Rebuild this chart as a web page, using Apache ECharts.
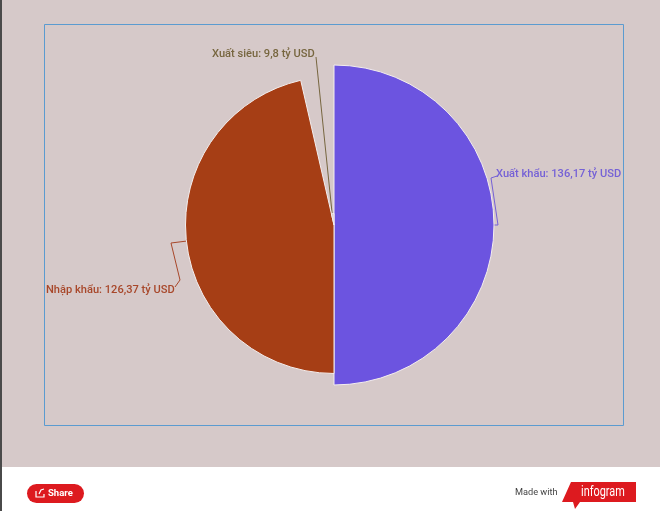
<!DOCTYPE html>
<html><head><meta charset="utf-8">
<style>html,body{margin:0;padding:0;background:#fff}#c{width:660px;height:511px}</style>
<script src="https://cdn.jsdelivr.net/npm/echarts@6/dist/echarts.min.js"></script>
</head><body><div id="c"></div>
<script>
const categories = ['Xuất khẩu', 'Nhập khẩu', 'Xuất siêu'];
const values = [136.17, 126.37, 9.8];
const valueLabels = ['136,17', '126,37', '9,8'];
const unit = 'tỷ USD';
const sliceColors = ['#6c54e0', '#a63e15', '#d6c9c9'];
const labelColors = ['#7561d6', '#a8472a', '#77663f'];
const labelAnchors = [[496, 174, 'left'], [46, 290, 'left'], [212, 54, 'left']];
const guides = [
  [[494, 225], [498, 225], [491, 178], [497, 176]],
  [[187, 241], [171, 243], [180, 280], [175, 287]],
  [[333, 222], [316, 57]]
];
const chart = echarts.init(document.getElementById('c'), null, {renderer: 'canvas'});
chart.setOption({
  animation: false,
  backgroundColor: '#ffffff',
  graphic: [
    {type: 'rect', z: -10, silent: true, shape: {x: 0, y: 0, width: 660, height: 467}, style: {fill: '#d6c9c9'}},
    {type: 'rect', z: -9, silent: true, shape: {x: 0, y: 0, width: 2, height: 511}, style: {fill: '#4a4a4a'}},
    {type: 'rect', z: -8, silent: true, shape: {x: 44.5, y: 24.5, width: 579, height: 401}, style: {fill: 'none', stroke: '#5b9bd0', lineWidth: 1}},
    {type: 'rect', silent: true, shape: {x: 27, y: 484, width: 57, height: 19, r: 9.5}, style: {fill: '#dd1a1f'}},
    {type: 'polyline', silent: true, shape: {points: [[36, 491], [36, 497], [44, 497], [44, 494]]}, style: {fill: 'none', stroke: '#fff', lineWidth: 1.2}},
    {type: 'polyline', silent: true, shape: {points: [[39, 494], [41, 490], [44, 489]]}, style: {fill: 'none', stroke: '#fff', lineWidth: 1.2}},
    {type: 'text', silent: true, x: 48, y: 493.5, style: {text: 'Share', fill: '#fff', font: 'bold 9.5px Roboto', verticalAlign: 'middle'}},
    {type: 'text', silent: true, x: 515, y: 492.5, style: {text: 'Made with', fill: '#444', font: '9.2px Roboto', verticalAlign: 'middle'}},
    {type: 'polygon', silent: true, shape: {points: [[571, 482], [636, 482], [636, 502], [580, 502], [575, 509], [573, 502], [562, 502]]}, style: {fill: '#dd1a1f'}},
    {type: 'text', silent: true, z: 10, x: 581, y: 492, scaleX: 0.78, style: {text: 'infogram', fill: '#fff', font: '14px Roboto', verticalAlign: 'middle'}}
  ],
  series: [{
    type: 'pie',
    center: [334, 225],
    radius: [0, 160],
    roseType: 'radius',
    startAngle: 90,
    clockwise: true,
    silent: true,
    minAngle: 0,
    avoidLabelOverlap: false,
    itemStyle: {borderColor: '#f4eeee', borderWidth: 1},
    label: {show: true, fontFamily: 'Roboto', fontSize: 11.1, fontWeight: 500},
    labelLine: {show: true, lineStyle: {width: 1}},
    labelLayout: function (p) {
      const a = labelAnchors[p.dataIndex];
      return {x: a[0], y: a[1], align: a[2], verticalAlign: 'middle', labelLinePoints: guides[p.dataIndex]};
    },
    data: categories.map((name, i) => ({
      name: name,
      value: values[i],
      itemStyle: {color: sliceColors[i]},
      label: {color: labelColors[i], formatter: name + ': ' + valueLabels[i] + ' ' + unit},
      labelLine: {lineStyle: {color: labelColors[i]}}
    }))
  }]
});
</script></body></html>
